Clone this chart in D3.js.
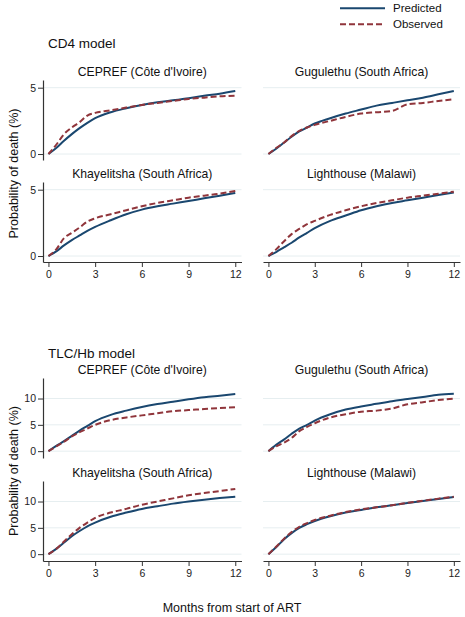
<!DOCTYPE html>
<html><head><meta charset="utf-8">
<script src="https://cdn.jsdelivr.net/npm/d3@7"></script>
<style>body{margin:0;background:#fff}svg{display:block}text{font-family:"Liberation Sans",Arial,sans-serif}</style>
</head><body>
<script>
const months = [0,0.5,1,1.5,2,2.5,3,4,5,6,7,8,9,10,11,12];
const xTicks = [0,3,6,9,12];
const cd4Ticks = [0,5];
const tlcTicks = [0,5,10];
const seriesNames = ["Predicted","Observed"];
const sections = ["CD4 model","TLC/Hb model"];
const sites = ["CEPREF (Côte d'Ivoire)","Gugulethu (South Africa)","Khayelitsha (South Africa)","Lighthouse (Malawi)"];

const cd4Pred = [
  [0,0.45,1.0,1.5,1.95,2.35,2.7,3.15,3.45,3.7,3.9,4.05,4.2,4.4,4.55,4.75],
  [0,0.4,0.85,1.3,1.7,2.0,2.3,2.7,3.05,3.35,3.65,3.85,4.05,4.25,4.5,4.75],
  [0,0.35,0.8,1.2,1.55,1.9,2.2,2.7,3.15,3.5,3.75,3.95,4.15,4.35,4.55,4.75],
  [0,0.3,0.65,1.0,1.4,1.75,2.1,2.65,3.05,3.45,3.75,4.0,4.2,4.4,4.6,4.78]
];
const cd4Obs = [
  [0,0.7,1.5,2.0,2.4,2.9,3.1,3.3,3.5,3.7,3.85,4.0,4.15,4.25,4.35,4.4],
  [0,0.45,0.85,1.35,1.75,2.0,2.2,2.5,2.8,3.05,3.15,3.25,3.75,3.85,4.0,4.12],
  [0,0.5,1.35,1.75,2.15,2.6,2.85,3.15,3.45,3.75,4.0,4.2,4.4,4.55,4.7,4.9],
  [0,0.5,1.1,1.65,2.05,2.4,2.65,3.1,3.45,3.75,4.0,4.2,4.4,4.55,4.7,4.85]
];
const tlcPred = [
  [0,1.0,1.9,2.9,3.9,4.8,5.7,6.9,7.7,8.4,8.95,9.4,9.85,10.25,10.55,10.85],
  [0,1.2,2.2,3.3,4.3,5.0,5.8,7.0,7.9,8.5,9.0,9.5,9.9,10.3,10.7,10.9],
  [0,1.0,2.2,3.4,4.4,5.3,6.0,7.1,7.9,8.6,9.1,9.6,10.0,10.35,10.65,10.9],
  [0,1.3,2.8,4.0,5.0,5.7,6.3,7.2,7.9,8.4,8.9,9.3,9.7,10.1,10.5,10.85]
];
const tlcObs = [
  [0,0.9,1.8,2.8,3.6,4.3,5.0,5.9,6.4,6.8,7.2,7.6,7.8,8.0,8.2,8.35],
  [0,0.9,1.6,2.5,3.8,4.6,5.3,6.4,7.0,7.5,7.7,8.1,8.9,9.3,9.7,10.0],
  [0,1.0,2.4,3.8,5.0,6.0,6.9,7.9,8.6,9.4,10.0,10.6,11.2,11.6,12.0,12.4],
  [0,1.4,2.9,4.2,5.2,5.9,6.5,7.3,8.0,8.5,8.9,9.3,9.75,10.15,10.55,10.9]
];

const W = 465, H = 617;
const PRED = "#1a476f", OBS = "#90353b", GRID = "#e6eef0", AX = "#333";
const svg = d3.select("body").append("svg").attr("width", W).attr("height", H);

const colX = [[43,241.5],[263,460]];
const secDefs = [
  {title: sections[0], titleY: 48, rows: [[80,160],[182,262]], dom: [-0.45,5.58], ticks: cd4Ticks, pred: cd4Pred, obs: cd4Obs, labelY: 173.5},
  {title: sections[1], titleY: 358, rows: [[378,458],[481,561]], dom: [-1.3,13.9], ticks: tlcTicks, pred: tlcPred, obs: tlcObs, labelY: 471}
];

secDefs.forEach(sec => {
  svg.append("text").attr("x", 48).attr("y", sec.titleY).attr("font-size", 13.5).attr("fill", "#111").text(sec.title);
  svg.append("text").attr("transform", `translate(18,${sec.labelY}) rotate(-90)`).attr("text-anchor", "middle")
    .attr("font-size", 12.5).attr("fill", "#111").text("Probability of death (%)");
  for (let i = 0; i < 4; i++) {
    const r = Math.floor(i / 2), c = i % 2;
    const x = d3.scaleLinear().domain([-0.35, 12.4]).range(colX[c]);
    const y = d3.scaleLinear().domain(sec.dom).range([sec.rows[r][1], sec.rows[r][0]]);
    const g = svg.append("g");
    g.append("text").attr("x", (colX[c][0] + colX[c][1]) / 2).attr("y", sec.rows[r][0] - 4)
      .attr("text-anchor", "middle").attr("font-size", 12.2).attr("fill", "#111").text(sites[i]);
    g.selectAll(".grid").data(sec.ticks).enter().append("line")
      .attr("x1", colX[c][0]).attr("x2", colX[c][1])
      .attr("y1", d => y(d)).attr("y2", d => y(d))
      .attr("stroke", GRID).attr("stroke-width", 1);
    if (c === 0) {
      const ya = g.append("g").attr("transform", `translate(${colX[c][0]},0)`)
        .call(d3.axisLeft(y).tickValues(sec.ticks).tickFormat(d3.format("d")).tickSize(5).tickPadding(2).tickSizeOuter(0));
      ya.select(".domain").attr("stroke", AX).attr("stroke-width", 1.2);
      ya.selectAll(".tick line").attr("stroke", AX);
      ya.selectAll(".tick text").attr("font-size", 10.5).attr("fill", "#222").attr("font-family", "Liberation Sans, Arial, sans-serif");
    }
    if (r === 1) {
      const xa = g.append("g").attr("transform", `translate(0,${sec.rows[r][1]})`)
        .call(d3.axisBottom(x).tickValues(xTicks).tickFormat(d3.format("d")).tickSize(5).tickPadding(4).tickSizeOuter(0));
      xa.select(".domain").attr("stroke", AX).attr("stroke-width", 1.2);
      xa.selectAll(".tick line").attr("stroke", AX);
      xa.selectAll(".tick text").attr("font-size", 10.5).attr("fill", "#222").attr("font-family", "Liberation Sans, Arial, sans-serif");
    }
    const line = d3.line().x((d, k) => x(months[k])).y(d => y(d)).curve(d3.curveMonotoneX);
    g.append("path").attr("d", line(sec.pred[i])).attr("fill", "none").attr("stroke", PRED).attr("stroke-width", 2);
    g.append("path").attr("d", line(sec.obs[i])).attr("fill", "none").attr("stroke", OBS).attr("stroke-width", 2).attr("stroke-dasharray", "6,3");
  }
});

svg.append("text").attr("x", 232).attr("y", 612).attr("text-anchor", "middle").attr("font-size", 12.5).attr("fill", "#111").text("Months from start of ART");

const leg = svg.append("g");
[[PRED, null, 8.3], [OBS, "6,3", 24.3]].forEach((d, k) => {
  leg.append("line").attr("x1", 340).attr("x2", 385).attr("y1", d[2]).attr("y2", d[2])
    .attr("stroke", d[0]).attr("stroke-width", 2).attr("stroke-dasharray", d[1]);
  leg.append("text").attr("x", 393).attr("y", d[2] + 4).attr("font-size", 11.5).attr("fill", "#111").text(seriesNames[k]);
});
</script>
</body></html>
